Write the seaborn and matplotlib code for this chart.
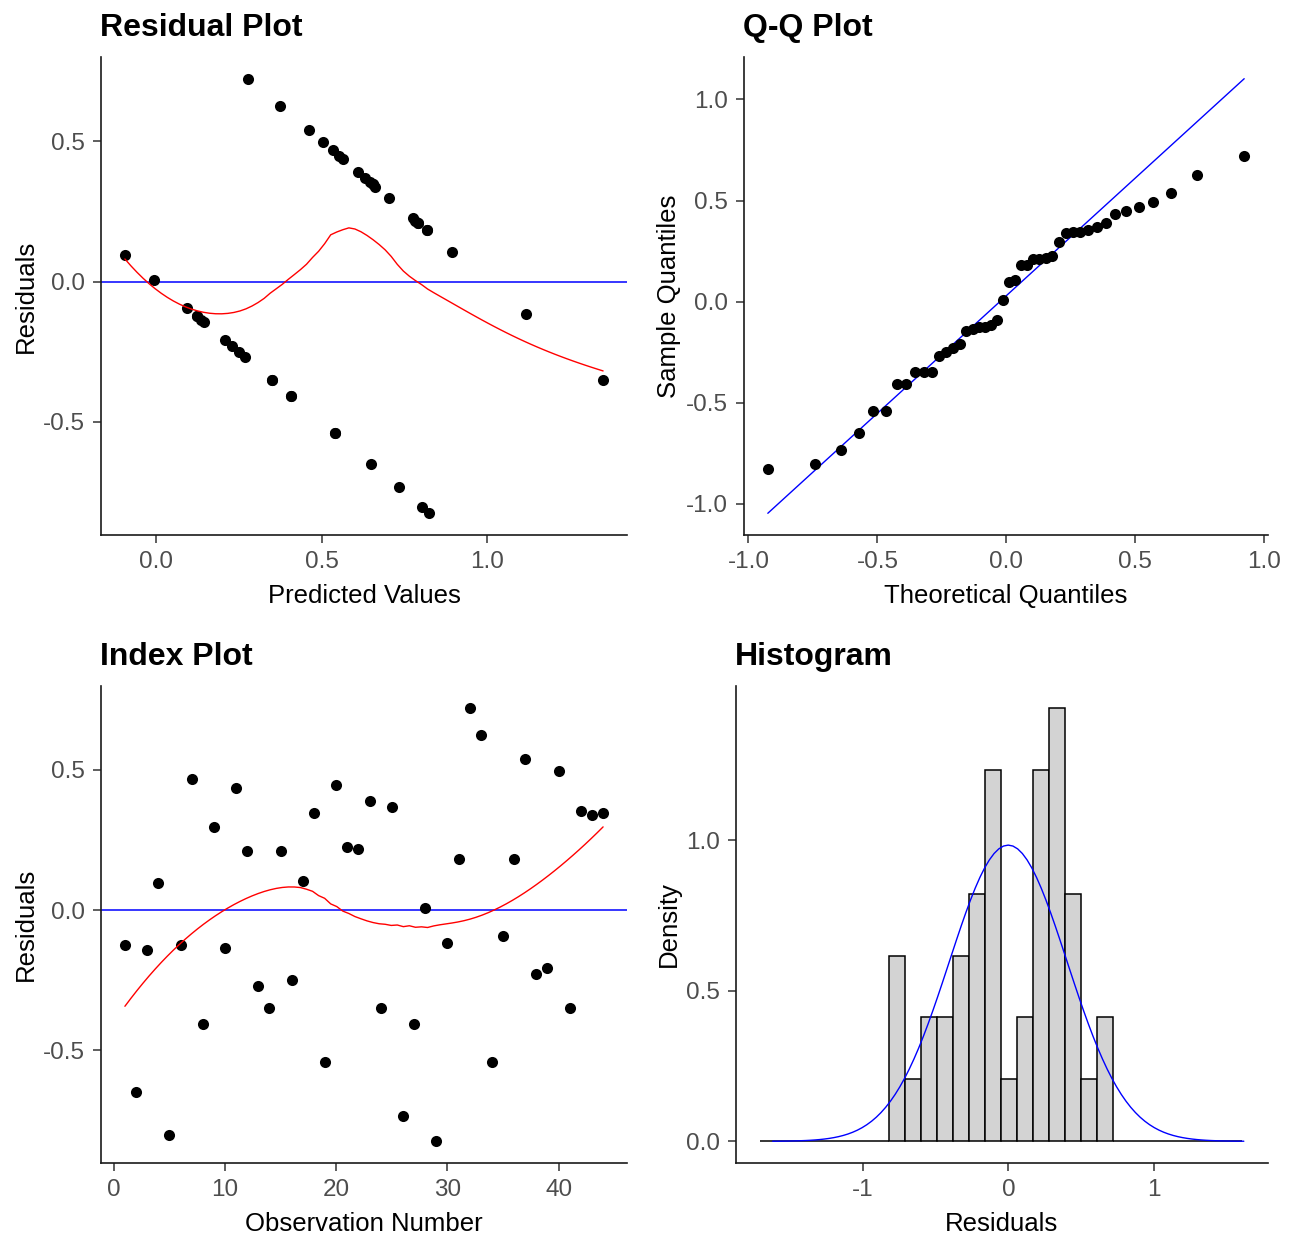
import numpy as np
import pandas as pd
import matplotlib
matplotlib.use("Agg")
import matplotlib.pyplot as plt
import seaborn as sns
from statistics import NormalDist

# ---------------- data ----------------
obs_number = list(range(1, 45))
residuals = [-0.123, -0.649, -0.144, 0.096, -0.804, -0.123, 0.467, -0.407, 0.297, -0.137,
             0.435, 0.210, -0.270, -0.350, 0.210, -0.251, 0.105, 0.346, -0.541, 0.446,
             0.225, 0.217, 0.389, -0.350, 0.368, -0.733, -0.407, 0.006, -0.825, -0.116,
             0.183, 0.722, 0.625, -0.541, -0.093, 0.183, 0.538, -0.229, -0.208, 0.495,
             -0.350, 0.354, 0.338, 0.346]
predicted = [0.123, 0.649, 0.144, -0.094, 0.804, 0.123, 0.533, 0.407, 0.703, 0.137,
             0.565, 0.790, 0.270, 0.350, 0.790, 0.251, 0.895, 0.654, 0.541, 0.554,
             0.775, 0.783, 0.611, 0.350, 0.632, 0.733, 0.407, -0.006, 0.825, 1.118,
             0.817, 0.278, 0.375, 0.541, 0.093, 0.817, 0.462, 0.229, 0.208, 0.505,
             1.350, 0.646, 0.662, 0.654]

titles = ["Residual Plot", "Q-Q Plot", "Index Plot", "Histogram"]
xlabels = ["Predicted Values", "Theoretical Quantiles", "Observation Number", "Residuals"]
ylabels = ["Residuals", "Sample Quantiles", "Residuals", "Density"]

df = pd.DataFrame({"obs": obs_number, "resid": residuals, "pred": predicted})


def loess(x, y, xout, span=0.75):
    x = np.asarray(x, float); y = np.asarray(y, float)
    n = len(x); q = int(np.floor(n * span))
    res = []
    for x0 in xout:
        d = np.abs(x - x0)
        h = np.sort(d)[q - 1]
        w = np.clip(1 - (d / h) ** 3, 0, 1) ** 3
        X = np.column_stack([np.ones(n), x - x0, (x - x0) ** 2])
        sw = np.sqrt(w)
        beta = np.linalg.lstsq(X * sw[:, None], y * sw, rcond=None)[0]
        res.append(beta[0])
    return np.array(res)


# ---------------- style ----------------
sns.set_theme(style="ticks")
plt.rcParams["font.family"] = ["Liberation Sans", "DejaVu Sans"]
plt.rcParams["axes.unicode_minus"] = False

W, H = 1300, 1240
fig = plt.figure(figsize=(W / 100, H / 100), dpi=100)
fig.patch.set_facecolor("white")


def make_ax(left, right, top, bottom):
    return fig.add_axes([left / W, 1 - bottom / H, (right - left) / W, (bottom - top) / H])


ax_res = make_ax(101, 627, 57, 535)
ax_qq = make_ax(744, 1268, 57, 535)
ax_idx = make_ax(101, 627, 686, 1163)
ax_hist = make_ax(736, 1268, 686, 1163)
axes = [ax_res, ax_qq, ax_idx, ax_hist]

pt_size = 64

# Residual plot
sns.scatterplot(data=df, x="pred", y="resid", color="black", s=pt_size, linewidth=0, ax=ax_res, zorder=3)
ax_res.axhline(0, color="blue", lw=1.1, zorder=2)
gx = np.linspace(df.pred.min(), df.pred.max(), 80)
sns.lineplot(x=gx, y=loess(df.pred, df.resid, gx), color="red", lw=1.0, ax=ax_res, zorder=4)
ax_res.set_xticks([0.0, 0.5, 1.0])
ax_res.set_yticks([-0.5, 0.0, 0.5])

# Q-Q plot
r = np.asarray(residuals)
n = len(r)
mu, sd = r.mean(), r.std(ddof=1)
nd = NormalDist(mu, sd)
theo = np.array([nd.inv_cdf((i - 0.5) / n) for i in range(1, n + 1)])
samp = np.sort(r)
sns.scatterplot(x=theo, y=samp, color="black", s=pt_size, linewidth=0, ax=ax_qq, zorder=3)
qs = np.quantile(r, [0.25, 0.75])
qt = np.array([nd.inv_cdf(0.25), nd.inv_cdf(0.75)])
slope = (qs[1] - qs[0]) / (qt[1] - qt[0])
inter = qs[0] - slope * qt[0]
lx = np.array([theo.min(), theo.max()])
sns.lineplot(x=lx, y=inter + slope * lx, color="blue", lw=1.0, ax=ax_qq, zorder=2)
ax_qq.set_xticks([-1.0, -0.5, 0.0, 0.5, 1.0])
ax_qq.set_yticks([-1.0, -0.5, 0.0, 0.5, 1.0])

# Index plot
sns.scatterplot(data=df, x="obs", y="resid", color="black", s=pt_size, linewidth=0, ax=ax_idx, zorder=3)
ax_idx.axhline(0, color="blue", lw=1.1, zorder=2)
ix = np.linspace(df.obs.min(), df.obs.max(), 80)
sns.lineplot(x=ix, y=loess(df.obs, df.resid, ix), color="red", lw=1.0, ax=ax_idx, zorder=4)
ax_idx.set_xticks([0, 10, 20, 30, 40])
ax_idx.set_yticks([-0.5, 0.0, 0.5])

# Histogram: 14 bins across the data range, padded with empty bins on both sides
span = (r.max() - r.min()) * (1 + 1e-6)
bw = span / 14
start = r.min() - span * 5e-7
edges = start + bw * np.arange(-8, 14 + 8 + 1)
sns.histplot(x=r, bins=edges, stat="density", color="#D3D3D3", edgecolor="black",
             linewidth=1.1, alpha=1, ax=ax_hist, zorder=2)
cx = np.linspace(mu - 4 * sd, mu + 4 * sd, 101)
sns.lineplot(x=cx, y=[nd.pdf(v) for v in cx], color="blue", lw=1.0, ax=ax_hist, zorder=3)
ax_hist.set_xticks([-1, 0, 1])
ax_hist.set_yticks([0.0, 0.5, 1.0])
ax_hist.set_ylim(-0.072, 1.512)

fmt1 = matplotlib.ticker.FormatStrFormatter("%.1f")
for a in [ax_res, ax_qq, ax_idx]:
    a.yaxis.set_major_formatter(fmt1)
ax_res.xaxis.set_major_formatter(fmt1)
ax_qq.xaxis.set_major_formatter(fmt1)
ax_hist.yaxis.set_major_formatter(fmt1)

for a, t, xl, yl in zip(axes, titles, xlabels, ylabels):
    a.set_title(t, loc="left", fontsize=23, fontweight="bold", pad=15, x=-0.002, color="black")
    a.set_xlabel(xl, fontsize=18.5, labelpad=8, color="black")
    a.set_ylabel(yl, fontsize=18.5, labelpad=3.5, color="black")
    a.tick_params(axis="both", labelsize=17.5, labelcolor="#4D4D4D", color="#333333",
                  length=6, width=1.1, pad=5.5)
    for s in ["left", "bottom"]:
        a.spines[s].set_color("#1a1a1a")
        a.spines[s].set_linewidth(1.2)
    sns.despine(ax=a)
    a.set_facecolor("white")
    a.grid(False)

fig.savefig("out.png", dpi=100, facecolor="white")
